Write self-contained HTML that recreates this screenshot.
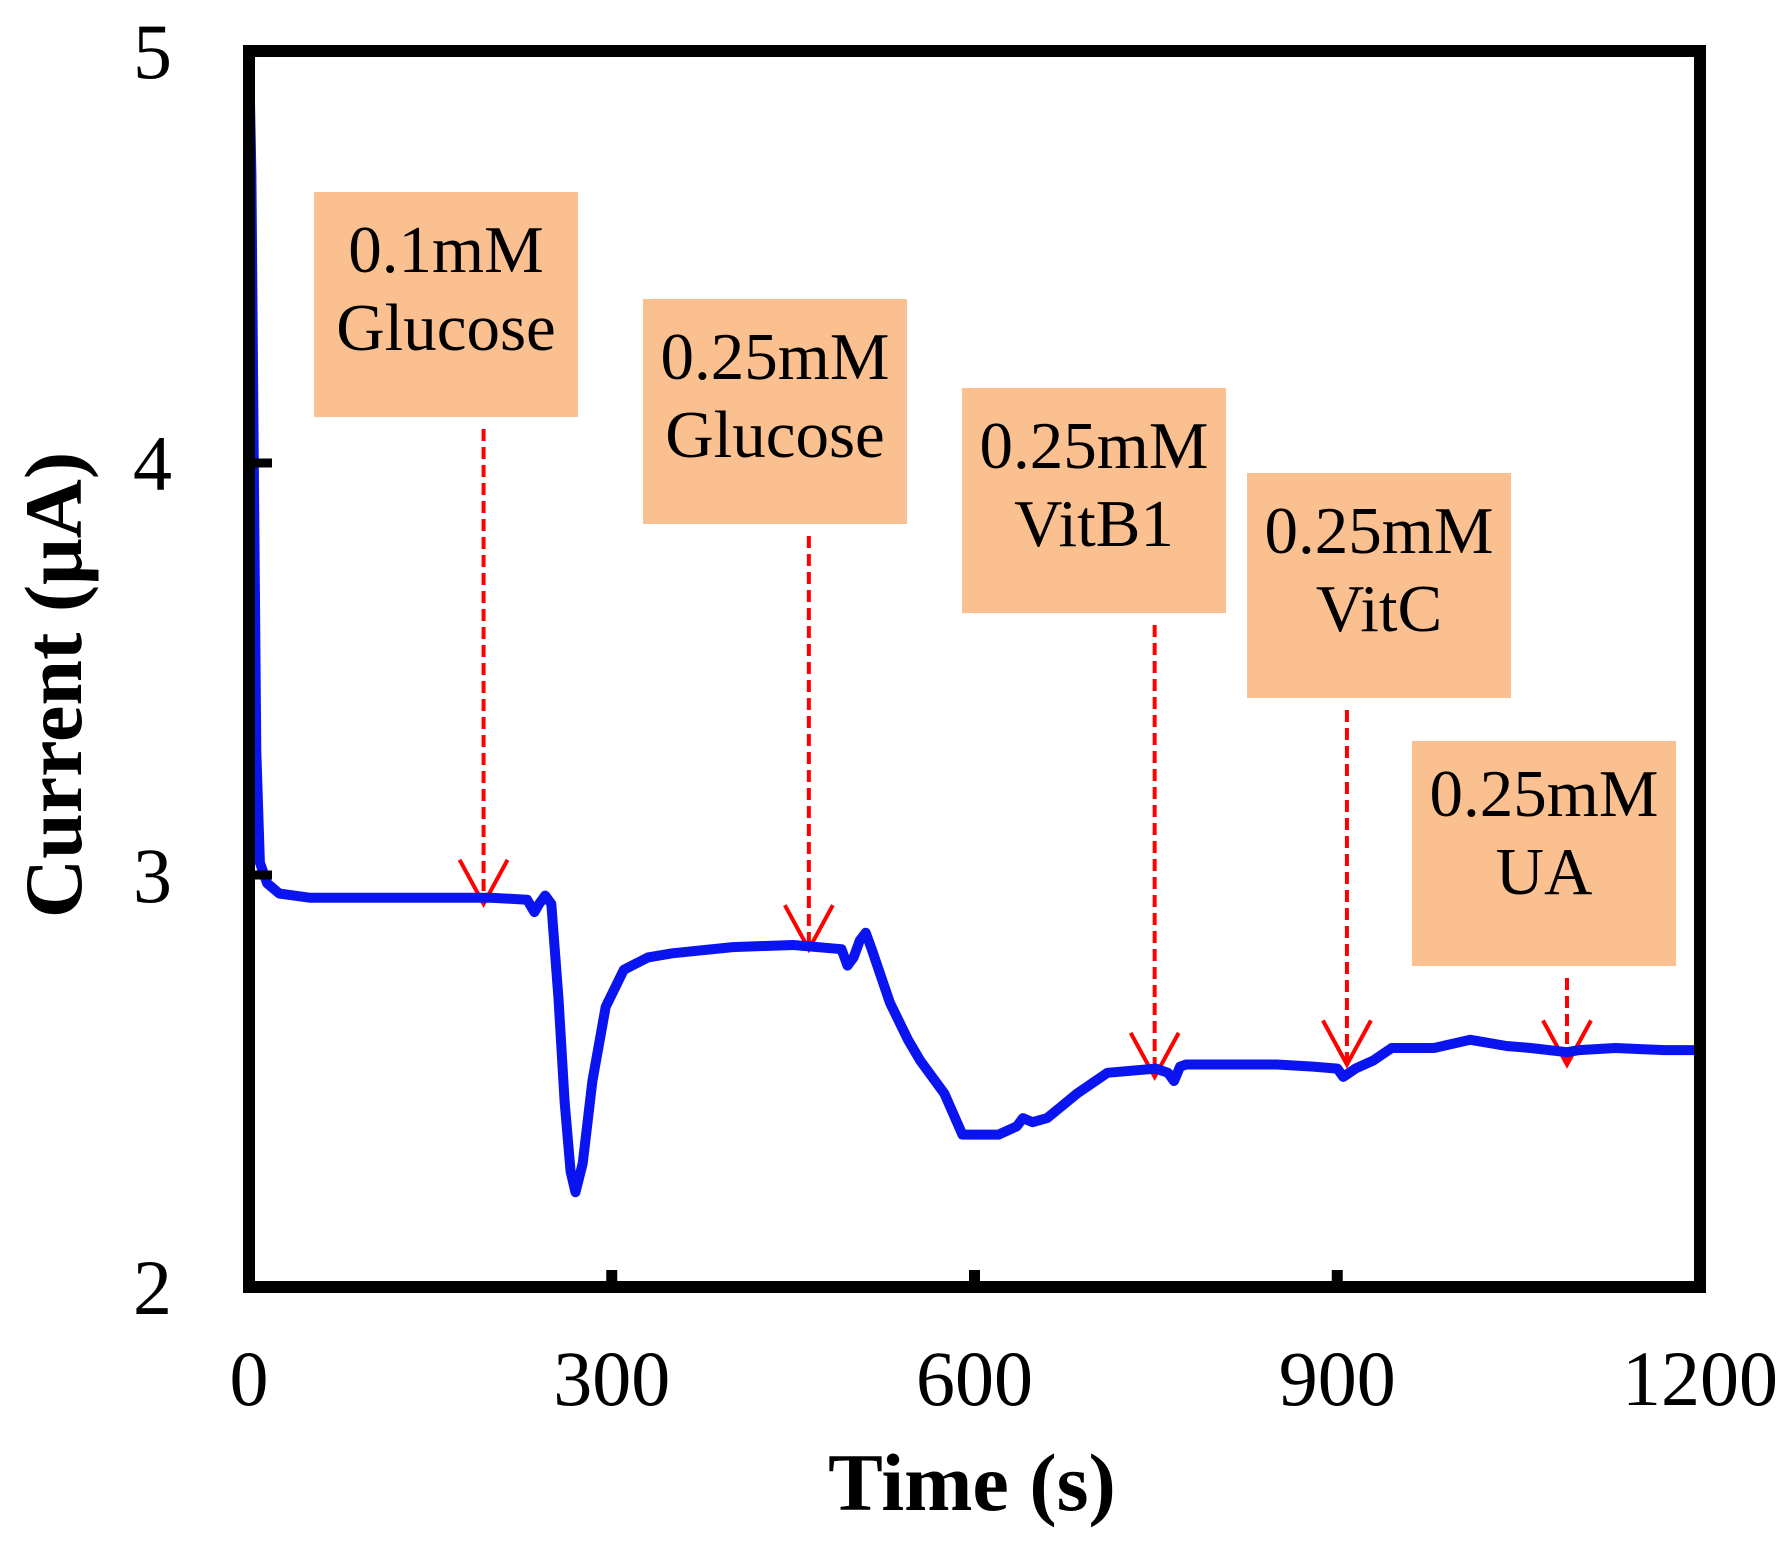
<!DOCTYPE html>
<html><head><meta charset="utf-8"><style>
html,body{margin:0;padding:0;background:#fff}
svg{display:block}
text{font-family:"Liberation Serif",serif;fill:#000}
</style></head><body>
<svg width="1790" height="1542" viewBox="0 0 1790 1542">
<g id="annots"></g>
<path id="curve" fill="none" stroke="#0A14F0" stroke-width="10" stroke-linejoin="round" stroke-linecap="round"/>
<rect x="249" y="51" width="1451" height="1236" fill="none" stroke="#000" stroke-width="12"/>
<g id="ticks"></g>
<text x="62" y="685" font-size="82" font-weight="bold" text-anchor="middle" transform="rotate(-90 62 685)" dominant-baseline="middle">Current (μA)</text>
<text x="972" y="1510" font-size="82" font-weight="bold" text-anchor="middle">Time (s)</text>
</svg>
<script>
const xTicks=[0,300,600,900,1200];
const yTicks=[2,3,4,5];
const times=[0,2,4,6,9,15,25,50,100,150,200,230,236,240,245,250,256,261,266,270,276,284,295,310,330,350,400,450,490,495,500,505,510,515,530,545,555,575,590,605,620,635,640,648,660,685,710,750,760,765,770,775,800,850,880,900,905,915,930,945,980,1010,1040,1060,1090,1100,1130,1170,1200];
const current=[5.0,4.7,4.0,3.3,3.03,2.98,2.955,2.945,2.945,2.945,2.945,2.94,2.91,2.93,2.95,2.93,2.7,2.45,2.28,2.23,2.3,2.5,2.68,2.77,2.8,2.81,2.825,2.83,2.82,2.78,2.8,2.84,2.86,2.82,2.69,2.6,2.55,2.47,2.37,2.37,2.37,2.39,2.41,2.4,2.41,2.47,2.52,2.53,2.52,2.5,2.535,2.54,2.54,2.54,2.535,2.53,2.51,2.53,2.55,2.58,2.58,2.6,2.585,2.58,2.57,2.575,2.58,2.575,2.575];
const boxLabels=[["0.1mM","Glucose"],["0.25mM","Glucose"],["0.25mM","VitB1"],["0.25mM","VitC"],["0.25mM","UA"]];
const arrowTimes=[194,463,749,908,1090];
const arrowEnds=[2.93,2.82,2.51,2.54,2.54];
const NS="http://www.w3.org/2000/svg";
const X=t=>249+t*(1451/1200), Y=v=>1287-(v-2)*412;
document.getElementById('curve').setAttribute('d',times.map((t,i)=>(i?'L':'M')+X(t).toFixed(1)+' '+Y(current[i]).toFixed(1)).join(''));
const tk=document.getElementById('ticks');
function mk(tag,a,p){const e=document.createElementNS(NS,tag);for(const k in a)e.setAttribute(k,a[k]);p.appendChild(e);return e;}
xTicks.forEach(t=>{
 if(t>0&&t<1200){const l=mk('line',{x1:X(t),x2:X(t),y1:1287,y2:1270,stroke:'#000','stroke-width':11},tk);
 
 }
 const tx=mk('text',{x:X(t),y:1405,'font-size':78,'text-anchor':'middle'},tk);tx.textContent=t;
 
 
});
yTicks.forEach(v=>{
 if(v>2&&v<5){const l=mk('line',{x1:249,x2:272,y1:Y(v),y2:Y(v),stroke:'#000','stroke-width':9},tk);
 
 }
 const tx=mk('text',{x:172,y:Y(v)+27,'font-size':78,'text-anchor':'end'},tk);tx.textContent=v;
 
 
});
const boxes=[[314,192],[643,299],[962,388],[1247,473],[1412,741]];
const an=document.getElementById('annots');
boxLabels.forEach((lb,i)=>{
 const [bx,by]=boxes[i];
 const r=mk('rect',{x:bx,y:by,width:264,height:225,fill:'#FAC090'},an);
 
 
 lb.forEach((s,j)=>{const t=mk('text',{x:bx+132,y:by+(i===4?75:80)+j*78,'font-size':67,'text-anchor':'middle'},an);t.textContent=s;
  
  });
 const ax=X(arrowTimes[i]), ay=Y(arrowEnds[i]);
 const l=mk('line',{x1:ax,x2:ax,y1:by+225+12,y2:ay-3,stroke:'#FF0000','stroke-width':4,'stroke-dasharray':'12 6'},an);
 
 
 const h=mk('path',{d:`M${ax-24} ${ay-44} L${ax} ${ay} L${ax+24} ${ay-44}`,fill:'none',stroke:'#FF0000','stroke-width':4},an);
 
 
});
</script>
</body></html>
